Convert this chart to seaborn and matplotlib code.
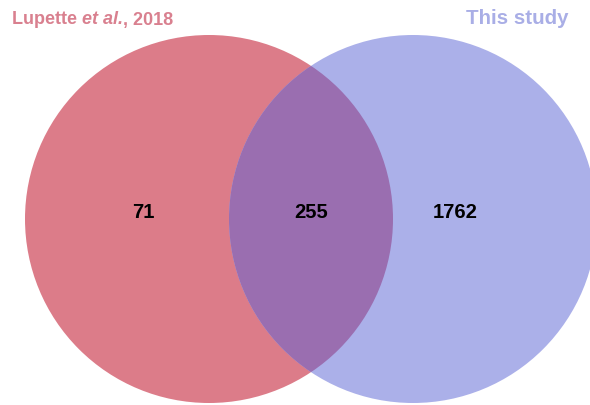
import matplotlib
matplotlib.use("Agg")
import matplotlib.pyplot as plt
import seaborn as sns
from matplotlib.patches import Circle

# data
set_names = ["Lupette et al., 2018", "This study"]
title_parts = ["Lupette ", "et al.", ", 2018"]
region_labels = ["only_lupette", "both", "only_this"]
region_counts = [71, 255, 1762]

col_left = "#dc7c89"
col_right = "#abb0e9"
col_both = "#9a6eb0"
col_left_txt = "#d9808f"
col_right_txt = "#a9aee6"

sns.set_theme(style="white")
plt.rcParams['font.family'] = ['Liberation Sans', 'DejaVu Sans']

fig = plt.figure(figsize=(5.9, 4.06), dpi=100)
ax = fig.add_axes([0, 0, 1, 1])
ax.set_xlim(0, 590)
ax.set_ylim(406, 0)
ax.set_aspect("equal")
ax.axis("off")

# circle layout (pixel coords)
r = 184
left_c = (209, 220)
right_c = (413, 220)

c1 = Circle(left_c, r, facecolor=col_left, edgecolor="none", zorder=1)
c2 = Circle(right_c, r, facecolor=col_right, edgecolor="none", zorder=1)
ax.add_patch(c1)
ax.add_patch(c2)
c3 = Circle(right_c, r, facecolor=col_both, edgecolor="none", zorder=2)
ax.add_patch(c3)
c3.set_clip_path(c1)

label_pos = [(143, 213), (311, 213), (455, 213)]
for (x, y), n in zip(label_pos, region_counts):
    ax.text(x, y, str(n), ha="center", va="center", fontsize=14.5,
            fontweight="bold", color="black", zorder=3)

# left set name with italic "et al."
t1 = ax.text(12, 20, title_parts[0], ha="left", va="center",
             fontsize=13, fontweight="bold", color=col_left_txt)
t2 = ax.annotate(title_parts[1], xy=(1, 0.5), xycoords=t1, ha="left", va="center",
                 fontsize=13, fontweight="bold", fontstyle="italic", color=col_left_txt)
t3 = ax.annotate(title_parts[2], xy=(1, 0.5), xycoords=t2, ha="left", va="center",
                 fontsize=13, fontweight="bold", color=col_left_txt)
ax.text(568, 19, set_names[1], ha="right", va="center",
        fontsize=14.8, fontweight="bold", color=col_right_txt)

fig.savefig("out.png", dpi=100)
